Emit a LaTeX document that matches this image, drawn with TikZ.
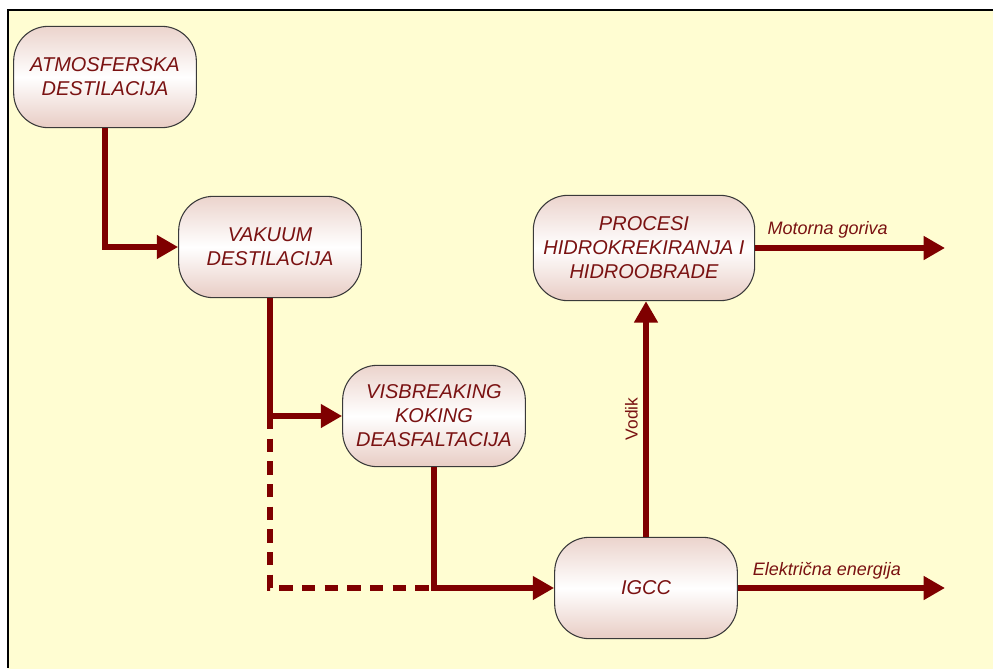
\documentclass[tikz,border=0pt]{standalone}
\usepackage{fontspec}
\usepackage{xcolor}
\usepackage{tikz}
\usetikzlibrary{arrows.meta}
\setmainfont{Liberation Sans}

\definecolor{tok}{HTML}{7F0000}
\definecolor{natpis}{HTML}{7A1212}
\definecolor{rub}{HTML}{3A3A3A}
\definecolor{kutija}{HTML}{E8CCC4}
\definecolor{pozadina}{HTML}{FFFDD2}

\tikzset{
  proces/.style={draw=rub, line width=0.8pt, rounded corners=26pt,
    top color=kutija!85, bottom color=kutija, middle color=white,
    minimum width=137pt, minimum height=76pt, inner sep=2pt,
    align=center, text=natpis,
    font=\fontsize{15}{18}\selectfont\itshape},
  tok/.style={draw=tok, line width=4.5pt,
    -{Triangle[length=16pt,width=17pt]}},
  tokcrtkano/.style={draw=tok, line width=4.5pt,
    dash pattern=on 10pt off 7pt},
  oznaka/.style={text=natpis, inner sep=1pt,
    font=\fontsize{13.5}{16}\selectfont\itshape}
}

\begin{document}
\begin{tikzpicture}[x=0.75pt,y=0.75pt,yscale=-1,xscale=1]
\useasboundingbox (0,0) rectangle (993,668);

% pozadina i okvir
\fill[top color=pozadina, middle color=pozadina!25, bottom color=pozadina] (8,9.5) rectangle (993,668);
\draw[line width=1.5pt] (8,668) -- (8,9.5) -- (993,9.5);

% procesi
\node[proces] (atm) at (105,77) {ATMOSFERSKA\\DESTILACIJA};
\node[proces] (vak) at (270,247) {VAKUUM\\DESTILACIJA};
\node[proces] (vis) at (434,416) {VISBREAKING\\KOKING\\DEASFALTACIJA};
\node[proces, minimum width=166pt, minimum height=79pt] (proc) at (644,248) {PROCESI\\HIDROKREKIRANJA I\\HIDROOBRADE};
\node[proces] (igcc) at (646,588) {IGCC};

\coordinate (j1) at (vak.south |- vis.west);
\coordinate (j2) at (vis.south |- igcc.west);
\coordinate (gorivo) at (945,248);
\coordinate (struja) at (945,588);

% tokovi
\draw[tok] (atm.south) |- (vak.west);
\draw[tok] (vak.south) |- (vis.west);
\draw[tokcrtkano] (j1) |- (j2);
\draw[tok] (vis.south) |- (igcc.west);
\draw[tok] (igcc.north) -- node[oznaka, font=\fontsize{13}{16}\selectfont, rotate=90, above=3pt] (vodik) {Vodik} (igcc.north |- proc.south);
\draw[tok] (proc.east) -- node[oznaka, pos=0, anchor=south west, xshift=6pt, yshift=4pt] (gor) {Motorna goriva} (gorivo);
\draw[tok] (igcc.east) -- node[oznaka, pos=0, anchor=south west, xshift=8pt, yshift=3pt] (el) {Električna energija} (struja);
\end{tikzpicture}
\end{document}
